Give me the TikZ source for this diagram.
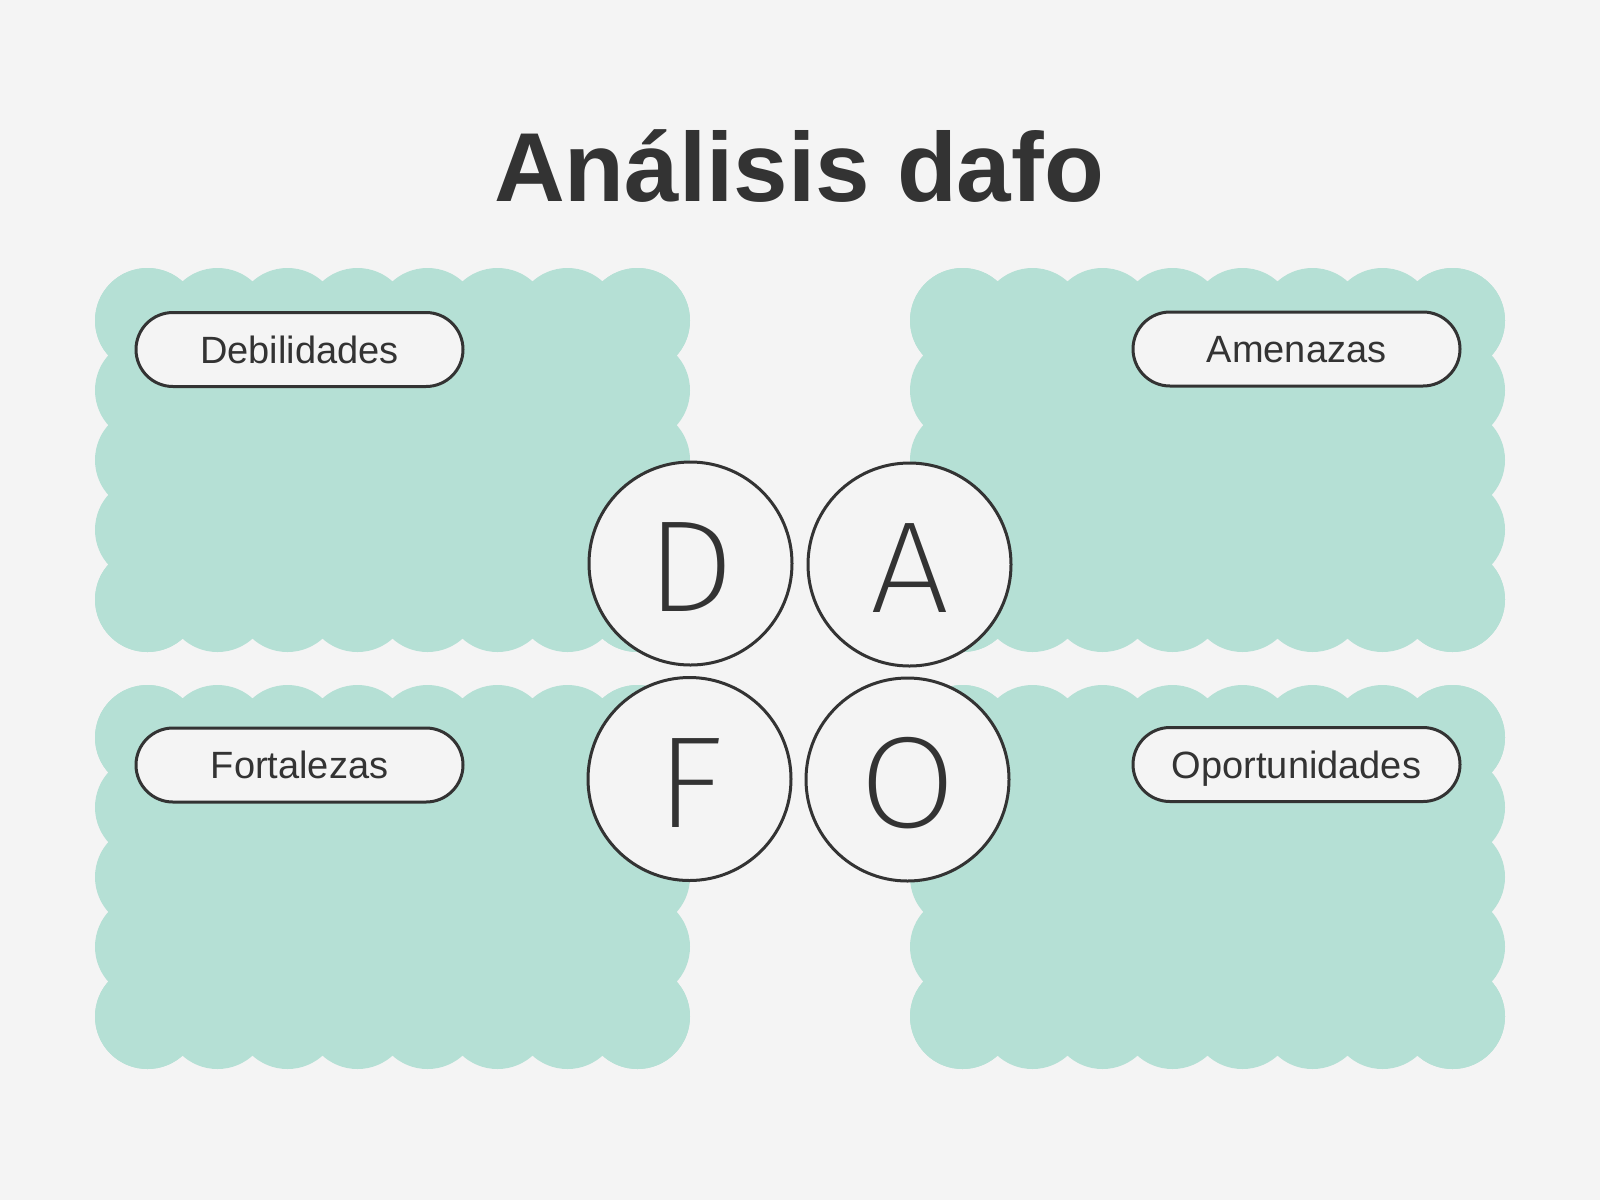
\documentclass[tikz,border=0pt]{standalone}
\usepackage{fontspec}
\setmainfont{Liberation Sans}
\newfontfamily\lightfont[FakeStretch=1.08]{Fira Sans ExtraLight}
\definecolor{bgc}{HTML}{F4F4F4}
\definecolor{mint}{HTML}{B5E0D5}
\definecolor{ink}{HTML}{333333}
\tikzset{
  pill/.style={draw=ink, line width=1.5pt, fill=bgc, rounded corners=18.5pt,
    minimum width=163.5pt, minimum height=37pt, inner sep=0pt, text=ink,
    font=\fontsize{19pt}{22pt}\selectfont, text height=13.6pt, text depth=0pt},
  letterc/.style={circle, draw=ink, line width=1.5pt, fill=bgc, minimum size=101.5pt,
    inner sep=0pt, text=ink, font=\lightfont\fontsize{65pt}{70pt}\selectfont,
    text height=48pt, text depth=0pt},
  titlestyle/.style={anchor=base, text=ink, font=\bfseries\fontsize{49pt}{55pt}\selectfont}
}
\newcommand\mycloud[2]{%
  \fill[mint] ({#1+52.5},{#2+52.5}) rectangle ({#1+542.5},{#2+331.5});
  \foreach \i in {0,...,7}{
    \fill[mint] ({#1+52.5+70*\i},{#2+52.5}) circle[radius=26.25pt];
    \fill[mint] ({#1+52.5+70*\i},{#2+331.5}) circle[radius=26.25pt];
  }
  \foreach \j in {0,...,4}{
    \fill[mint] ({#1+52.5},{#2+52.5+69.75*\j}) circle[radius=26.25pt];
    \fill[mint] ({#1+542.5},{#2+52.5+69.75*\j}) circle[radius=26.25pt];
  }
}
\begin{document}
\begin{tikzpicture}[x=0.5pt, y=-0.5pt]
  \fill[bgc] (0,0) rectangle (1600,1200);
  \useasboundingbox (0,0) rectangle (1600,1200);
  % title
  \node[titlestyle] (title) at (799,201) {Análisis dafo};
  % clouds
  \mycloud{95}{268}
  \mycloud{910}{268}
  \mycloud{95}{685}
  \mycloud{910}{685}
  % labels
  \node[pill] (deb) at (299.5,349.5) {Debilidades};
  \node[pill] (ame) at (1296.5,349) {Amenazas};
  \node[pill] (fort) at (299.5,765) {Fortalezas};
  \node[pill] (opo) at (1296.5,764.5) {Oportunidades};
  % letter circles
  \node[letterc] (cd) at (690.5,563.5) {D};
  \node[letterc] (ca) at (909.5,564.5) {A};
  \node[letterc] (cf) at (689.5,779) {F};
  \node[letterc] (co) at (907.5,779.5) {O};
\end{tikzpicture}
\end{document}
